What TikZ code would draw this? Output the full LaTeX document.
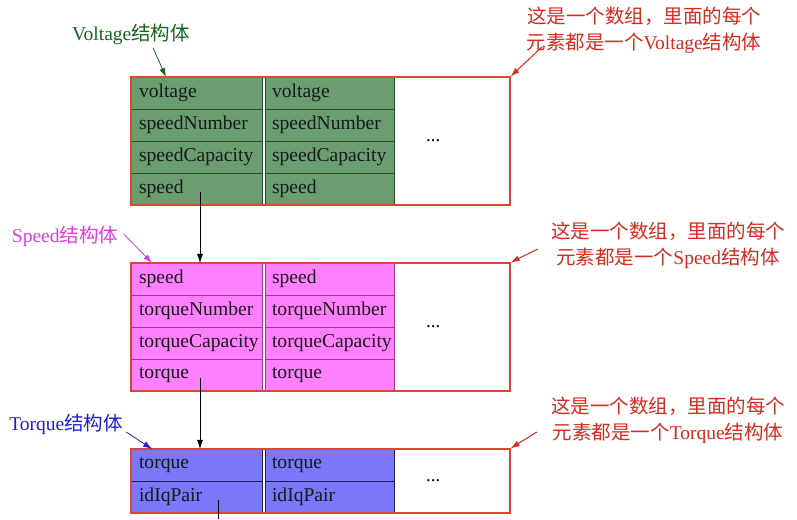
\documentclass[tikz,border=0pt]{standalone}
\usepackage{fontspec}
\setmainfont{Liberation Serif}
\newfontfamily\cjk{Noto Sans CJK SC}
\usepackage{xcolor}
\usepackage{tikz}
\usetikzlibrary{arrows.meta, positioning, fit, calc}
\definecolor{voltfill}{HTML}{6A9E70}
\definecolor{voltline}{HTML}{24502C}
\definecolor{voltlabel}{HTML}{17661C}
\definecolor{speedfill}{HTML}{FF80FF}
\definecolor{speedline}{HTML}{A8329E}
\definecolor{speedlabel}{HTML}{E03CE0}
\definecolor{torqfill}{HTML}{7878F8}
\definecolor{torqline}{HTML}{1C1C66}
\definecolor{torqlabel}{HTML}{1E1ED2}
\definecolor{arrayred}{HTML}{E0452F}
\definecolor{notered}{HTML}{D62B1F}

\begin{document}
\begin{tikzpicture}[
    x=1pt, y=1pt,
    cell/.style={
        rectangle, line width=0.8pt, text=black!90,
        minimum height=32pt, inner ysep=0pt, outer sep=0pt,
        inner xsep=8pt, text width=115pt, align=left,
        font=\fontsize{19.6}{22}\selectfont,
    },
    rcell/.style={cell, inner xsep=7pt},
    vcell/.style={fill=voltfill, draw=voltline},
    scell/.style={fill=speedfill, draw=speedline},
    tcell/.style={fill=torqfill, draw=torqline},
    arraybox/.style={draw=arrayred, line width=1.2pt, inner sep=0pt, rectangle},
    dotsnode/.style={font=\fontsize{19}{22}\selectfont, inner sep=0pt},
    ptr/.style={-{Latex[length=9pt, width=6pt]}, line width=0.8pt, black},
    typelabel/.style={font=\fontsize{19.5}{22}\selectfont, text=#1},
    typearrow/.style={-{Latex[length=9pt, width=6pt]}, line width=0.8pt, draw=#1},
    note/.style={
        font=\fontsize{19.5}{26}\selectfont, text=notered,
        align=center, inner sep=0pt,
    },
    notearrow/.style={-{Latex[length=9pt, width=6pt]}, line width=1pt, draw=notered},
]
\useasboundingbox (0,0) rectangle (797,519);

% Voltage array
\node[cell, vcell, anchor=north west] (vl1) at (131,442) {voltage};
\node[cell, vcell, below=0pt of vl1] (vl2) {speedNumber};
\node[cell, vcell, below=0pt of vl2] (vl3) {speedCapacity};
\node[cell, vcell, below=0pt of vl3] (vl4) {speed};
\node[rcell, vcell, right=3pt of vl1] (vr1) {voltage};
\node[rcell, vcell, below=0pt of vr1] (vr2) {speedNumber};
\node[rcell, vcell, below=0pt of vr2] (vr3) {speedCapacity};
\node[rcell, vcell, below=0pt of vr3] (vr4) {speed};
\coordinate[right=116pt of vr1.north east] (vcorner);
\node[arraybox, fit=(vl1)(vr4)(vcorner)] (vbox) {};
\node[dotsnode, right=32pt of vr2.south east] (vdots) {...};

% Speed array
\node[cell, scell, anchor=north west] (sl1) at (131,256) {speed};
\node[cell, scell, below=0pt of sl1] (sl2) {torqueNumber};
\node[cell, scell, below=0pt of sl2] (sl3) {torqueCapacity};
\node[cell, scell, below=0pt of sl3] (sl4) {torque};
\node[rcell, scell, right=3pt of sl1] (sr1) {speed};
\node[rcell, scell, below=0pt of sr1] (sr2) {torqueNumber};
\node[rcell, scell, below=0pt of sr2] (sr3) {torqueCapacity};
\node[rcell, scell, below=0pt of sr3] (sr4) {torque};
\coordinate[right=116pt of sr1.north east] (scorner);
\node[arraybox, fit=(sl1)(sr4)(scorner)] (sbox) {};
\node[dotsnode, right=32pt of sr2.south east] (sdots) {...};

% Torque array
\node[cell, tcell, anchor=north west] (tl1) at (131,70) {torque};
\node[cell, tcell, below=0pt of tl1] (tl2) {idIqPair};
\node[rcell, tcell, right=3pt of tl1] (tr1) {torque};
\node[rcell, tcell, below=0pt of tr1] (tr2) {idIqPair};
\coordinate[right=116pt of tr1.north east] (tcorner);
\node[arraybox, fit=(tl1)(tr2)(tcorner)] (tbox) {};
\node[dotsnode, right=32pt of tr1.south east] (tdots) {...};

% Pointers
\draw[ptr] ([shift={(3.5pt,-3pt)}]vl4.center) -- ([xshift=3.5pt]sl1.north);
\draw[ptr] ([shift={(3.5pt,-3pt)}]sl4.center) -- ([xshift=3.5pt]tl1.north);
\coordinate (tend) at (218,0);
\draw[line width=0.8pt] ([shift={(21.5pt,-3pt)}]tl2.center) -- (tend);

% Type labels
\node[typelabel=voltlabel] (vlabel) at (131,485) {Voltage{\cjk 结构体}};
\node[typelabel=speedlabel] (slabel) at (65,283) {Speed{\cjk 结构体}};
\node[typelabel=torqlabel] (tlabel) at (66,95) {Torque{\cjk 结构体}};
\draw[typearrow=voltlabel] ([xshift=22pt]vlabel.south) -- ([xshift=35pt]vl1.north west);
\draw[typearrow=speedlabel] ([shift={(2pt,2pt)}]slabel.east) -- ([xshift=21pt]sl1.north west);
\draw[typearrow=torqlabel] ([yshift=-8pt]tlabel.east) -- ([xshift=21pt]tl1.north west);

% Notes
\node[note] (vnote) at (644,489) {{\cjk 这是一个数组，里面的每个}\\{\cjk 元素都是一个}Voltage{\cjk 结构体}};
\node[note] (snote) at (668,274) {{\cjk 这是一个数组，里面的每个}\\{\cjk 元素都是一个}Speed{\cjk 结构体}};
\node[note] (tnote) at (668,99) {{\cjk 这是一个数组，里面的每个}\\{\cjk 元素都是一个}Torque{\cjk 结构体}};
\draw[notearrow] ([shift={(16pt,7pt)}]vnote.south west) -- (vbox.north east);
\draw[notearrow] ([shift={(-13pt,-4pt)}]snote.west) -- (sbox.north east);
\draw[notearrow] ([shift={(-14pt,-12pt)}]tnote.west) -- (tbox.north east);

\end{tikzpicture}
\end{document}
